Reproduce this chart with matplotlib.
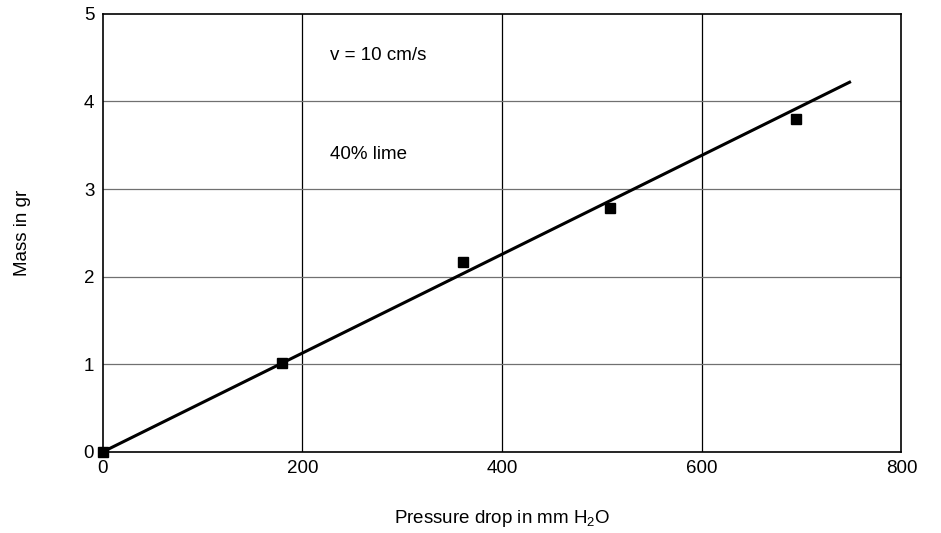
import matplotlib
matplotlib.use("Agg")
import matplotlib.pyplot as plt

plt.rcParams['font.family'] = ['Liberation Sans', 'DejaVu Sans']
plt.rcParams['mathtext.fontset'] = 'custom'
plt.rcParams['mathtext.rm'] = 'Liberation Sans'

pressure = [0, 180, 361, 508, 694]
mass = [0.0, 1.01, 2.17, 2.79, 3.80]
fit_x = [0, 748]
fit_y = [0.0, 4.22]
xticks = [0, 200, 400, 600, 800]
yticks = [0, 1, 2, 3, 4, 5]

fig = plt.figure(figsize=(9.41, 5.33), dpi=100)
ax = fig.add_axes([0.109, 0.152, 0.849, 0.822])

for xv in xticks[1:-1]:
    ax.axvline(xv, color='black', lw=0.9, zorder=1)
for yv in yticks[1:-1]:
    ax.axhline(yv, color='#707070', lw=0.9, zorder=1)

ax.plot(fit_x, fit_y, color='black', lw=2.2, zorder=3)
ax.plot(pressure, mass, 's', color='black', markersize=7, zorder=4, clip_on=False)

ax.set_xlim(0, 800)
ax.set_ylim(0, 5)
ax.set_xticks(xticks)
ax.set_yticks(yticks)
ax.tick_params(length=0, labelsize=13.5, pad=6)
for s in ax.spines.values():
    s.set_linewidth(1.2)
    s.set_color('black')

ax.text(228, 4.52, 'v = 10 cm/s', fontsize=13.5, va='center', ha='left')
ax.text(228, 3.40, '40% lime', fontsize=13.5, va='center', ha='left')

ax.set_xlabel(r'Pressure drop in mm H$_\mathregular{2}$O', fontsize=13.5, labelpad=22)
ax.set_ylabel('Mass in gr', fontsize=13.5, labelpad=38)

fig.savefig('out.png', dpi=100)
